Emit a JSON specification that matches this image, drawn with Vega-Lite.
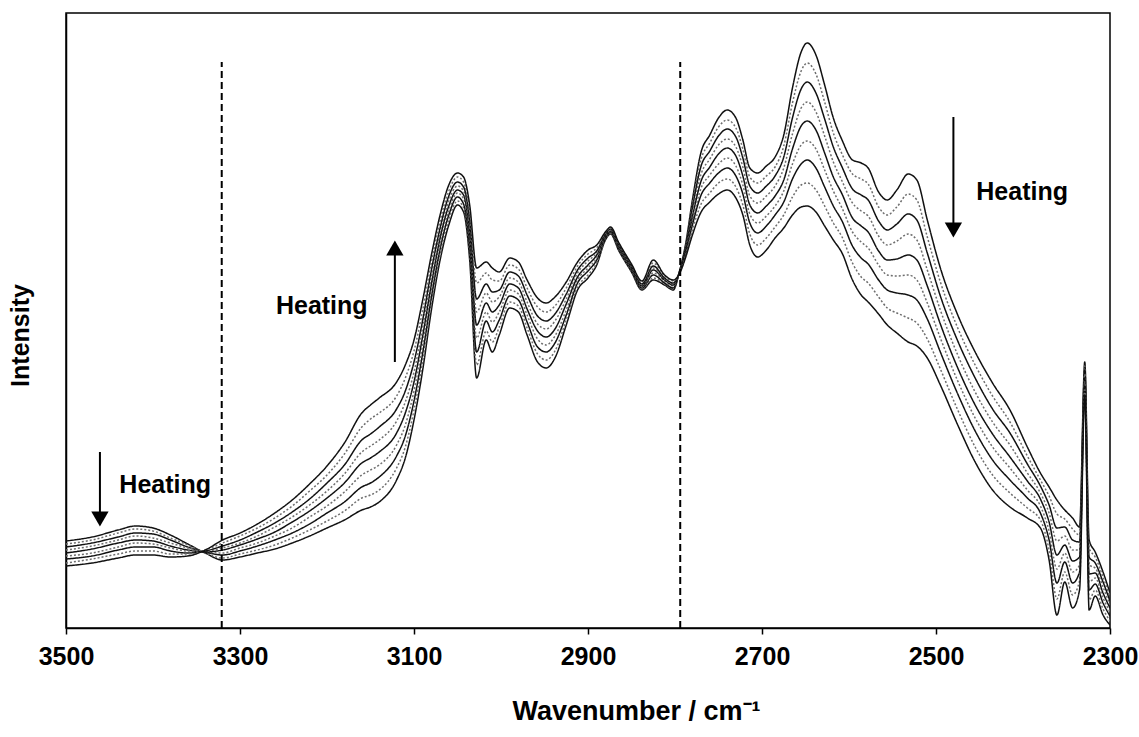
{
"$schema": "https://vega.github.io/schema/vega-lite/v6.json",
"width": 1044, "height": 615,
"autosize": "none",
"padding": {"left": 66, "top": 13, "right": 29, "bottom": 109},
"background": "white",
"config": {"view": {"stroke": "black", "strokeWidth": 1.5}},
"datasets": {
"spectra": [
{"w":3500,"k":0,"i":87},{"w":3500,"k":1,"i":84},{"w":3500,"k":2,"i":81},{"w":3500,"k":3,"i":78},{"w":3500,"k":4,"i":75},{"w":3500,"k":5,"i":72},{"w":3500,"k":6,"i":69},{"w":3500,"k":7,"i":65},{"w":3500,"k":8,"i":62},
{"w":3470,"k":0,"i":91},{"w":3470,"k":1,"i":88},{"w":3470,"k":2,"i":85},{"w":3470,"k":3,"i":82},{"w":3470,"k":4,"i":79},{"w":3470,"k":5,"i":75},{"w":3470,"k":6,"i":72},{"w":3470,"k":7,"i":69},{"w":3470,"k":8,"i":65},
{"w":3440,"k":0,"i":98},{"w":3440,"k":1,"i":95},{"w":3440,"k":2,"i":91},{"w":3440,"k":3,"i":88},{"w":3440,"k":4,"i":85},{"w":3440,"k":5,"i":81},{"w":3440,"k":6,"i":78},{"w":3440,"k":7,"i":74},{"w":3440,"k":8,"i":70},
{"w":3420,"k":0,"i":102},{"w":3420,"k":1,"i":99},{"w":3420,"k":2,"i":95},{"w":3420,"k":3,"i":92},{"w":3420,"k":4,"i":88},{"w":3420,"k":5,"i":85},{"w":3420,"k":6,"i":81},{"w":3420,"k":7,"i":77},{"w":3420,"k":8,"i":73},
{"w":3400,"k":0,"i":100},{"w":3400,"k":1,"i":97},{"w":3400,"k":2,"i":94},{"w":3400,"k":3,"i":90},{"w":3400,"k":4,"i":87},{"w":3400,"k":5,"i":84},{"w":3400,"k":6,"i":81},{"w":3400,"k":7,"i":77},{"w":3400,"k":8,"i":73},
{"w":3380,"k":0,"i":93},{"w":3380,"k":1,"i":90},{"w":3380,"k":2,"i":88},{"w":3380,"k":3,"i":85},{"w":3380,"k":4,"i":82},{"w":3380,"k":5,"i":80},{"w":3380,"k":6,"i":77},{"w":3380,"k":7,"i":74},{"w":3380,"k":8,"i":71},
{"w":3360,"k":0,"i":84},{"w":3360,"k":1,"i":83},{"w":3360,"k":2,"i":81},{"w":3360,"k":3,"i":80},{"w":3360,"k":4,"i":78},{"w":3360,"k":5,"i":77},{"w":3360,"k":6,"i":75},{"w":3360,"k":7,"i":74},{"w":3360,"k":8,"i":72},
{"w":3340,"k":0,"i":75},{"w":3340,"k":1,"i":75},{"w":3340,"k":2,"i":76},{"w":3340,"k":3,"i":76},{"w":3340,"k":4,"i":76},{"w":3340,"k":5,"i":77},{"w":3340,"k":6,"i":77},{"w":3340,"k":7,"i":78},{"w":3340,"k":8,"i":78},
{"w":3320,"k":0,"i":68},{"w":3320,"k":1,"i":70},{"w":3320,"k":2,"i":73},{"w":3320,"k":3,"i":75},{"w":3320,"k":4,"i":78},{"w":3320,"k":5,"i":80},{"w":3320,"k":6,"i":82},{"w":3320,"k":7,"i":85},{"w":3320,"k":8,"i":88},
{"w":3300,"k":0,"i":71},{"w":3300,"k":1,"i":74},{"w":3300,"k":2,"i":77},{"w":3300,"k":3,"i":80},{"w":3300,"k":4,"i":83},{"w":3300,"k":5,"i":85},{"w":3300,"k":6,"i":88},{"w":3300,"k":7,"i":92},{"w":3300,"k":8,"i":95},
{"w":3280,"k":0,"i":75},{"w":3280,"k":1,"i":78},{"w":3280,"k":2,"i":82},{"w":3280,"k":3,"i":85},{"w":3280,"k":4,"i":89},{"w":3280,"k":5,"i":92},{"w":3280,"k":6,"i":96},{"w":3280,"k":7,"i":100},{"w":3280,"k":8,"i":104},
{"w":3260,"k":0,"i":79},{"w":3260,"k":1,"i":83},{"w":3260,"k":2,"i":88},{"w":3260,"k":3,"i":92},{"w":3260,"k":4,"i":96},{"w":3260,"k":5,"i":101},{"w":3260,"k":6,"i":105},{"w":3260,"k":7,"i":110},{"w":3260,"k":8,"i":115},
{"w":3240,"k":0,"i":85},{"w":3240,"k":1,"i":90},{"w":3240,"k":2,"i":95},{"w":3240,"k":3,"i":100},{"w":3240,"k":4,"i":106},{"w":3240,"k":5,"i":111},{"w":3240,"k":6,"i":116},{"w":3240,"k":7,"i":122},{"w":3240,"k":8,"i":128},
{"w":3220,"k":0,"i":92},{"w":3220,"k":1,"i":98},{"w":3220,"k":2,"i":104},{"w":3220,"k":3,"i":111},{"w":3220,"k":4,"i":117},{"w":3220,"k":5,"i":123},{"w":3220,"k":6,"i":129},{"w":3220,"k":7,"i":137},{"w":3220,"k":8,"i":144},
{"w":3200,"k":0,"i":100},{"w":3200,"k":1,"i":107},{"w":3200,"k":2,"i":115},{"w":3200,"k":3,"i":122},{"w":3200,"k":4,"i":130},{"w":3200,"k":5,"i":137},{"w":3200,"k":6,"i":145},{"w":3200,"k":7,"i":153},{"w":3200,"k":8,"i":162},
{"w":3180,"k":0,"i":108},{"w":3180,"k":1,"i":117},{"w":3180,"k":2,"i":126},{"w":3180,"k":3,"i":136},{"w":3180,"k":4,"i":145},{"w":3180,"k":5,"i":154},{"w":3180,"k":6,"i":163},{"w":3180,"k":7,"i":174},{"w":3180,"k":8,"i":185},
{"w":3160,"k":0,"i":118},{"w":3160,"k":1,"i":130},{"w":3160,"k":2,"i":141},{"w":3160,"k":3,"i":153},{"w":3160,"k":4,"i":165},{"w":3160,"k":5,"i":176},{"w":3160,"k":6,"i":188},{"w":3160,"k":7,"i":201},{"w":3160,"k":8,"i":215},
{"w":3150,"k":0,"i":121},{"w":3150,"k":1,"i":133},{"w":3150,"k":2,"i":145},{"w":3150,"k":3,"i":158},{"w":3150,"k":4,"i":170},{"w":3150,"k":5,"i":182},{"w":3150,"k":6,"i":194},{"w":3150,"k":7,"i":209},{"w":3150,"k":8,"i":223},
{"w":3140,"k":0,"i":126},{"w":3140,"k":1,"i":138},{"w":3140,"k":2,"i":151},{"w":3140,"k":3,"i":163},{"w":3140,"k":4,"i":176},{"w":3140,"k":5,"i":188},{"w":3140,"k":6,"i":201},{"w":3140,"k":7,"i":215},{"w":3140,"k":8,"i":230},
{"w":3120,"k":0,"i":148},{"w":3120,"k":1,"i":160},{"w":3120,"k":2,"i":172},{"w":3120,"k":3,"i":183},{"w":3120,"k":4,"i":195},{"w":3120,"k":5,"i":207},{"w":3120,"k":6,"i":219},{"w":3120,"k":7,"i":232},{"w":3120,"k":8,"i":246},
{"w":3110,"k":0,"i":170},{"w":3110,"k":1,"i":181},{"w":3110,"k":2,"i":192},{"w":3110,"k":3,"i":203},{"w":3110,"k":4,"i":215},{"w":3110,"k":5,"i":226},{"w":3110,"k":6,"i":237},{"w":3110,"k":7,"i":250},{"w":3110,"k":8,"i":263},
{"w":3100,"k":0,"i":208},{"w":3100,"k":1,"i":218},{"w":3100,"k":2,"i":227},{"w":3100,"k":3,"i":237},{"w":3100,"k":4,"i":246},{"w":3100,"k":5,"i":256},{"w":3100,"k":6,"i":266},{"w":3100,"k":7,"i":277},{"w":3100,"k":8,"i":288},
{"w":3090,"k":0,"i":258},{"w":3090,"k":1,"i":266},{"w":3090,"k":2,"i":275},{"w":3090,"k":3,"i":283},{"w":3090,"k":4,"i":292},{"w":3090,"k":5,"i":300},{"w":3090,"k":6,"i":308},{"w":3090,"k":7,"i":318},{"w":3090,"k":8,"i":328},
{"w":3080,"k":0,"i":318},{"w":3080,"k":1,"i":325},{"w":3080,"k":2,"i":331},{"w":3080,"k":3,"i":338},{"w":3080,"k":4,"i":344},{"w":3080,"k":5,"i":351},{"w":3080,"k":6,"i":358},{"w":3080,"k":7,"i":365},{"w":3080,"k":8,"i":373},
{"w":3070,"k":0,"i":368},{"w":3070,"k":1,"i":373},{"w":3070,"k":2,"i":379},{"w":3070,"k":3,"i":384},{"w":3070,"k":4,"i":390},{"w":3070,"k":5,"i":395},{"w":3070,"k":6,"i":400},{"w":3070,"k":7,"i":407},{"w":3070,"k":8,"i":413},
{"w":3060,"k":0,"i":403},{"w":3060,"k":1,"i":408},{"w":3060,"k":2,"i":413},{"w":3060,"k":3,"i":417},{"w":3060,"k":4,"i":422},{"w":3060,"k":5,"i":427},{"w":3060,"k":6,"i":432},{"w":3060,"k":7,"i":437},{"w":3060,"k":8,"i":443},
{"w":3050,"k":0,"i":423},{"w":3050,"k":1,"i":427},{"w":3050,"k":2,"i":431},{"w":3050,"k":3,"i":435},{"w":3050,"k":4,"i":438},{"w":3050,"k":5,"i":442},{"w":3050,"k":6,"i":446},{"w":3050,"k":7,"i":451},{"w":3050,"k":8,"i":455},
{"w":3043,"k":0,"i":416},{"w":3043,"k":1,"i":420},{"w":3043,"k":2,"i":424},{"w":3043,"k":3,"i":429},{"w":3043,"k":4,"i":433},{"w":3043,"k":5,"i":437},{"w":3043,"k":6,"i":441},{"w":3043,"k":7,"i":446},{"w":3043,"k":8,"i":451},
{"w":3036,"k":0,"i":368},{"w":3036,"k":1,"i":375},{"w":3036,"k":2,"i":381},{"w":3036,"k":3,"i":388},{"w":3036,"k":4,"i":394},{"w":3036,"k":5,"i":401},{"w":3036,"k":6,"i":408},{"w":3036,"k":7,"i":415},{"w":3036,"k":8,"i":423},
{"w":3028,"k":0,"i":250},{"w":3028,"k":1,"i":263},{"w":3028,"k":2,"i":276},{"w":3028,"k":3,"i":290},{"w":3028,"k":4,"i":303},{"w":3028,"k":5,"i":316},{"w":3028,"k":6,"i":329},{"w":3028,"k":7,"i":345},{"w":3028,"k":8,"i":360},
{"w":3017,"k":0,"i":288},{"w":3017,"k":1,"i":297},{"w":3017,"k":2,"i":307},{"w":3017,"k":3,"i":316},{"w":3017,"k":4,"i":325},{"w":3017,"k":5,"i":335},{"w":3017,"k":6,"i":344},{"w":3017,"k":7,"i":355},{"w":3017,"k":8,"i":366},
{"w":3010,"k":0,"i":276},{"w":3010,"k":1,"i":286},{"w":3010,"k":2,"i":296},{"w":3010,"k":3,"i":306},{"w":3010,"k":4,"i":316},{"w":3010,"k":5,"i":326},{"w":3010,"k":6,"i":336},{"w":3010,"k":7,"i":348},{"w":3010,"k":8,"i":360},
{"w":3002,"k":0,"i":293},{"w":3002,"k":1,"i":301},{"w":3002,"k":2,"i":308},{"w":3002,"k":3,"i":316},{"w":3002,"k":4,"i":323},{"w":3002,"k":5,"i":331},{"w":3002,"k":6,"i":338},{"w":3002,"k":7,"i":347},{"w":3002,"k":8,"i":356},
{"w":2990,"k":0,"i":320},{"w":2990,"k":1,"i":326},{"w":2990,"k":2,"i":332},{"w":2990,"k":3,"i":338},{"w":2990,"k":4,"i":344},{"w":2990,"k":5,"i":350},{"w":2990,"k":6,"i":356},{"w":2990,"k":7,"i":363},{"w":2990,"k":8,"i":370},
{"w":2980,"k":0,"i":316},{"w":2980,"k":1,"i":322},{"w":2980,"k":2,"i":328},{"w":2980,"k":3,"i":334},{"w":2980,"k":4,"i":340},{"w":2980,"k":5,"i":346},{"w":2980,"k":6,"i":352},{"w":2980,"k":7,"i":359},{"w":2980,"k":8,"i":366},
{"w":2970,"k":0,"i":293},{"w":2970,"k":1,"i":300},{"w":2970,"k":2,"i":306},{"w":2970,"k":3,"i":313},{"w":2970,"k":4,"i":319},{"w":2970,"k":5,"i":326},{"w":2970,"k":6,"i":333},{"w":2970,"k":7,"i":340},{"w":2970,"k":8,"i":348},
{"w":2958,"k":0,"i":266},{"w":2958,"k":1,"i":274},{"w":2958,"k":2,"i":281},{"w":2958,"k":3,"i":289},{"w":2958,"k":4,"i":297},{"w":2958,"k":5,"i":304},{"w":2958,"k":6,"i":312},{"w":2958,"k":7,"i":321},{"w":2958,"k":8,"i":330},
{"w":2948,"k":0,"i":260},{"w":2948,"k":1,"i":268},{"w":2948,"k":2,"i":276},{"w":2948,"k":3,"i":283},{"w":2948,"k":4,"i":291},{"w":2948,"k":5,"i":299},{"w":2948,"k":6,"i":307},{"w":2948,"k":7,"i":316},{"w":2948,"k":8,"i":325},
{"w":2938,"k":0,"i":270},{"w":2938,"k":1,"i":277},{"w":2938,"k":2,"i":285},{"w":2938,"k":3,"i":292},{"w":2938,"k":4,"i":299},{"w":2938,"k":5,"i":307},{"w":2938,"k":6,"i":314},{"w":2938,"k":7,"i":322},{"w":2938,"k":8,"i":331},
{"w":2925,"k":0,"i":303},{"w":2925,"k":1,"i":308},{"w":2925,"k":2,"i":313},{"w":2925,"k":3,"i":318},{"w":2925,"k":4,"i":324},{"w":2925,"k":5,"i":329},{"w":2925,"k":6,"i":334},{"w":2925,"k":7,"i":340},{"w":2925,"k":8,"i":346},
{"w":2912,"k":0,"i":338},{"w":2912,"k":1,"i":341},{"w":2912,"k":2,"i":345},{"w":2912,"k":3,"i":348},{"w":2912,"k":4,"i":351},{"w":2912,"k":5,"i":355},{"w":2912,"k":6,"i":358},{"w":2912,"k":7,"i":362},{"w":2912,"k":8,"i":366},
{"w":2900,"k":0,"i":350},{"w":2900,"k":1,"i":353},{"w":2900,"k":2,"i":357},{"w":2900,"k":3,"i":360},{"w":2900,"k":4,"i":363},{"w":2900,"k":5,"i":367},{"w":2900,"k":6,"i":370},{"w":2900,"k":7,"i":374},{"w":2900,"k":8,"i":378},
{"w":2890,"k":0,"i":363},{"w":2890,"k":1,"i":365},{"w":2890,"k":2,"i":368},{"w":2890,"k":3,"i":370},{"w":2890,"k":4,"i":373},{"w":2890,"k":5,"i":375},{"w":2890,"k":6,"i":377},{"w":2890,"k":7,"i":380},{"w":2890,"k":8,"i":383},
{"w":2880,"k":0,"i":388},{"w":2880,"k":1,"i":389},{"w":2880,"k":2,"i":390},{"w":2880,"k":3,"i":391},{"w":2880,"k":4,"i":392},{"w":2880,"k":5,"i":393},{"w":2880,"k":6,"i":394},{"w":2880,"k":7,"i":395},{"w":2880,"k":8,"i":396},
{"w":2874,"k":0,"i":394},{"w":2874,"k":1,"i":395},{"w":2874,"k":2,"i":396},{"w":2874,"k":3,"i":397},{"w":2874,"k":4,"i":397},{"w":2874,"k":5,"i":398},{"w":2874,"k":6,"i":399},{"w":2874,"k":7,"i":400},{"w":2874,"k":8,"i":401},
{"w":2865,"k":0,"i":378},{"w":2865,"k":1,"i":379},{"w":2865,"k":2,"i":380},{"w":2865,"k":3,"i":381},{"w":2865,"k":4,"i":382},{"w":2865,"k":5,"i":383},{"w":2865,"k":6,"i":384},{"w":2865,"k":7,"i":385},{"w":2865,"k":8,"i":386},
{"w":2850,"k":0,"i":356},{"w":2850,"k":1,"i":357},{"w":2850,"k":2,"i":358},{"w":2850,"k":3,"i":359},{"w":2850,"k":4,"i":360},{"w":2850,"k":5,"i":361},{"w":2850,"k":6,"i":362},{"w":2850,"k":7,"i":363},{"w":2850,"k":8,"i":364},
{"w":2838,"k":0,"i":338},{"w":2838,"k":1,"i":339},{"w":2838,"k":2,"i":340},{"w":2838,"k":3,"i":341},{"w":2838,"k":4,"i":342},{"w":2838,"k":5,"i":343},{"w":2838,"k":6,"i":344},{"w":2838,"k":7,"i":346},{"w":2838,"k":8,"i":347},
{"w":2825,"k":0,"i":348},{"w":2825,"k":1,"i":350},{"w":2825,"k":2,"i":353},{"w":2825,"k":3,"i":355},{"w":2825,"k":4,"i":358},{"w":2825,"k":5,"i":360},{"w":2825,"k":6,"i":362},{"w":2825,"k":7,"i":365},{"w":2825,"k":8,"i":368},
{"w":2812,"k":0,"i":343},{"w":2812,"k":1,"i":344},{"w":2812,"k":2,"i":345},{"w":2812,"k":3,"i":347},{"w":2812,"k":4,"i":348},{"w":2812,"k":5,"i":349},{"w":2812,"k":6,"i":350},{"w":2812,"k":7,"i":352},{"w":2812,"k":8,"i":353},
{"w":2802,"k":0,"i":338},{"w":2802,"k":1,"i":339},{"w":2802,"k":2,"i":340},{"w":2802,"k":3,"i":342},{"w":2802,"k":4,"i":343},{"w":2802,"k":5,"i":344},{"w":2802,"k":6,"i":345},{"w":2802,"k":7,"i":347},{"w":2802,"k":8,"i":348},
{"w":2795,"k":0,"i":356},{"w":2795,"k":1,"i":356},{"w":2795,"k":2,"i":356},{"w":2795,"k":3,"i":355},{"w":2795,"k":4,"i":355},{"w":2795,"k":5,"i":355},{"w":2795,"k":6,"i":355},{"w":2795,"k":7,"i":354},{"w":2795,"k":8,"i":354},
{"w":2788,"k":0,"i":383},{"w":2788,"k":1,"i":381},{"w":2788,"k":2,"i":380},{"w":2788,"k":3,"i":378},{"w":2788,"k":4,"i":377},{"w":2788,"k":5,"i":375},{"w":2788,"k":6,"i":374},{"w":2788,"k":7,"i":372},{"w":2788,"k":8,"i":370},
{"w":2780,"k":0,"i":428},{"w":2780,"k":1,"i":424},{"w":2780,"k":2,"i":420},{"w":2780,"k":3,"i":415},{"w":2780,"k":4,"i":411},{"w":2780,"k":5,"i":407},{"w":2780,"k":6,"i":403},{"w":2780,"k":7,"i":398},{"w":2780,"k":8,"i":393},
{"w":2770,"k":0,"i":476},{"w":2770,"k":1,"i":469},{"w":2770,"k":2,"i":462},{"w":2770,"k":3,"i":454},{"w":2770,"k":4,"i":447},{"w":2770,"k":5,"i":440},{"w":2770,"k":6,"i":433},{"w":2770,"k":7,"i":424},{"w":2770,"k":8,"i":416},
{"w":2760,"k":0,"i":493},{"w":2760,"k":1,"i":485},{"w":2760,"k":2,"i":477},{"w":2760,"k":3,"i":469},{"w":2760,"k":4,"i":461},{"w":2760,"k":5,"i":453},{"w":2760,"k":6,"i":445},{"w":2760,"k":7,"i":435},{"w":2760,"k":8,"i":426},
{"w":2750,"k":0,"i":510},{"w":2750,"k":1,"i":501},{"w":2750,"k":2,"i":492},{"w":2750,"k":3,"i":483},{"w":2750,"k":4,"i":474},{"w":2750,"k":5,"i":464},{"w":2750,"k":6,"i":455},{"w":2750,"k":7,"i":445},{"w":2750,"k":8,"i":434},
{"w":2740,"k":0,"i":518},{"w":2740,"k":1,"i":508},{"w":2740,"k":2,"i":499},{"w":2740,"k":3,"i":489},{"w":2740,"k":4,"i":480},{"w":2740,"k":5,"i":470},{"w":2740,"k":6,"i":460},{"w":2740,"k":7,"i":449},{"w":2740,"k":8,"i":438},
{"w":2730,"k":0,"i":510},{"w":2730,"k":1,"i":500},{"w":2730,"k":2,"i":491},{"w":2730,"k":3,"i":481},{"w":2730,"k":4,"i":472},{"w":2730,"k":5,"i":462},{"w":2730,"k":6,"i":452},{"w":2730,"k":7,"i":441},{"w":2730,"k":8,"i":430},
{"w":2722,"k":0,"i":488},{"w":2722,"k":1,"i":479},{"w":2722,"k":2,"i":470},{"w":2722,"k":3,"i":461},{"w":2722,"k":4,"i":452},{"w":2722,"k":5,"i":443},{"w":2722,"k":6,"i":434},{"w":2722,"k":7,"i":423},{"w":2722,"k":8,"i":413},
{"w":2714,"k":0,"i":460},{"w":2714,"k":1,"i":451},{"w":2714,"k":2,"i":442},{"w":2714,"k":3,"i":432},{"w":2714,"k":4,"i":423},{"w":2714,"k":5,"i":414},{"w":2714,"k":6,"i":405},{"w":2714,"k":7,"i":394},{"w":2714,"k":8,"i":383},
{"w":2705,"k":0,"i":455},{"w":2705,"k":1,"i":445},{"w":2705,"k":2,"i":435},{"w":2705,"k":3,"i":425},{"w":2705,"k":4,"i":415},{"w":2705,"k":5,"i":405},{"w":2705,"k":6,"i":395},{"w":2705,"k":7,"i":383},{"w":2705,"k":8,"i":371},
{"w":2695,"k":0,"i":462},{"w":2695,"k":1,"i":452},{"w":2695,"k":2,"i":442},{"w":2695,"k":3,"i":432},{"w":2695,"k":4,"i":422},{"w":2695,"k":5,"i":412},{"w":2695,"k":6,"i":402},{"w":2695,"k":7,"i":390},{"w":2695,"k":8,"i":378},
{"w":2685,"k":0,"i":471},{"w":2685,"k":1,"i":461},{"w":2685,"k":2,"i":452},{"w":2685,"k":3,"i":442},{"w":2685,"k":4,"i":432},{"w":2685,"k":5,"i":422},{"w":2685,"k":6,"i":413},{"w":2685,"k":7,"i":401},{"w":2685,"k":8,"i":390},
{"w":2675,"k":0,"i":493},{"w":2675,"k":1,"i":482},{"w":2675,"k":2,"i":471},{"w":2675,"k":3,"i":460},{"w":2675,"k":4,"i":448},{"w":2675,"k":5,"i":437},{"w":2675,"k":6,"i":426},{"w":2675,"k":7,"i":413},{"w":2675,"k":8,"i":400},
{"w":2665,"k":0,"i":540},{"w":2665,"k":1,"i":525},{"w":2665,"k":2,"i":510},{"w":2665,"k":3,"i":494},{"w":2665,"k":4,"i":479},{"w":2665,"k":5,"i":464},{"w":2665,"k":6,"i":449},{"w":2665,"k":7,"i":431},{"w":2665,"k":8,"i":413},
{"w":2655,"k":0,"i":576},{"w":2655,"k":1,"i":557},{"w":2655,"k":2,"i":539},{"w":2655,"k":3,"i":520},{"w":2655,"k":4,"i":502},{"w":2655,"k":5,"i":483},{"w":2655,"k":6,"i":464},{"w":2655,"k":7,"i":443},{"w":2655,"k":8,"i":421},
{"w":2648,"k":0,"i":585},{"w":2648,"k":1,"i":565},{"w":2648,"k":2,"i":546},{"w":2648,"k":3,"i":526},{"w":2648,"k":4,"i":507},{"w":2648,"k":5,"i":487},{"w":2648,"k":6,"i":468},{"w":2648,"k":7,"i":445},{"w":2648,"k":8,"i":422},
{"w":2638,"k":0,"i":573},{"w":2638,"k":1,"i":554},{"w":2638,"k":2,"i":535},{"w":2638,"k":3,"i":516},{"w":2638,"k":4,"i":498},{"w":2638,"k":5,"i":479},{"w":2638,"k":6,"i":460},{"w":2638,"k":7,"i":438},{"w":2638,"k":8,"i":416},
{"w":2628,"k":0,"i":543},{"w":2628,"k":1,"i":526},{"w":2628,"k":2,"i":509},{"w":2628,"k":3,"i":492},{"w":2628,"k":4,"i":475},{"w":2628,"k":5,"i":458},{"w":2628,"k":6,"i":441},{"w":2628,"k":7,"i":422},{"w":2628,"k":8,"i":402},
{"w":2618,"k":0,"i":510},{"w":2618,"k":1,"i":495},{"w":2618,"k":2,"i":481},{"w":2618,"k":3,"i":466},{"w":2618,"k":4,"i":451},{"w":2618,"k":5,"i":437},{"w":2618,"k":6,"i":422},{"w":2618,"k":7,"i":405},{"w":2618,"k":8,"i":388},
{"w":2608,"k":0,"i":488},{"w":2608,"k":1,"i":474},{"w":2608,"k":2,"i":461},{"w":2608,"k":3,"i":447},{"w":2608,"k":4,"i":434},{"w":2608,"k":5,"i":420},{"w":2608,"k":6,"i":407},{"w":2608,"k":7,"i":391},{"w":2608,"k":8,"i":375},
{"w":2596,"k":0,"i":468},{"w":2596,"k":1,"i":454},{"w":2596,"k":2,"i":439},{"w":2596,"k":3,"i":425},{"w":2596,"k":4,"i":410},{"w":2596,"k":5,"i":396},{"w":2596,"k":6,"i":382},{"w":2596,"k":7,"i":365},{"w":2596,"k":8,"i":348},
{"w":2586,"k":0,"i":465},{"w":2586,"k":1,"i":449},{"w":2586,"k":2,"i":433},{"w":2586,"k":3,"i":417},{"w":2586,"k":4,"i":402},{"w":2586,"k":5,"i":386},{"w":2586,"k":6,"i":370},{"w":2586,"k":7,"i":351},{"w":2586,"k":8,"i":333},
{"w":2578,"k":0,"i":460},{"w":2578,"k":1,"i":444},{"w":2578,"k":2,"i":428},{"w":2578,"k":3,"i":412},{"w":2578,"k":4,"i":396},{"w":2578,"k":5,"i":380},{"w":2578,"k":6,"i":364},{"w":2578,"k":7,"i":345},{"w":2578,"k":8,"i":326},
{"w":2566,"k":0,"i":436},{"w":2566,"k":1,"i":421},{"w":2566,"k":2,"i":407},{"w":2566,"k":3,"i":392},{"w":2566,"k":4,"i":377},{"w":2566,"k":5,"i":363},{"w":2566,"k":6,"i":348},{"w":2566,"k":7,"i":331},{"w":2566,"k":8,"i":314},
{"w":2556,"k":0,"i":428},{"w":2556,"k":1,"i":413},{"w":2556,"k":2,"i":398},{"w":2556,"k":3,"i":383},{"w":2556,"k":4,"i":368},{"w":2556,"k":5,"i":353},{"w":2556,"k":6,"i":338},{"w":2556,"k":7,"i":320},{"w":2556,"k":8,"i":303},
{"w":2545,"k":0,"i":438},{"w":2545,"k":1,"i":421},{"w":2545,"k":2,"i":404},{"w":2545,"k":3,"i":387},{"w":2545,"k":4,"i":369},{"w":2545,"k":5,"i":352},{"w":2545,"k":6,"i":335},{"w":2545,"k":7,"i":315},{"w":2545,"k":8,"i":295},
{"w":2532,"k":0,"i":454},{"w":2532,"k":1,"i":434},{"w":2532,"k":2,"i":414},{"w":2532,"k":3,"i":394},{"w":2532,"k":4,"i":373},{"w":2532,"k":5,"i":353},{"w":2532,"k":6,"i":333},{"w":2532,"k":7,"i":310},{"w":2532,"k":8,"i":286},
{"w":2522,"k":0,"i":448},{"w":2522,"k":1,"i":428},{"w":2522,"k":2,"i":408},{"w":2522,"k":3,"i":388},{"w":2522,"k":4,"i":368},{"w":2522,"k":5,"i":348},{"w":2522,"k":6,"i":328},{"w":2522,"k":7,"i":305},{"w":2522,"k":8,"i":282},
{"w":2510,"k":0,"i":408},{"w":2510,"k":1,"i":391},{"w":2510,"k":2,"i":375},{"w":2510,"k":3,"i":358},{"w":2510,"k":4,"i":342},{"w":2510,"k":5,"i":325},{"w":2510,"k":6,"i":309},{"w":2510,"k":7,"i":289},{"w":2510,"k":8,"i":270},
{"w":2495,"k":0,"i":360},{"w":2495,"k":1,"i":346},{"w":2495,"k":2,"i":332},{"w":2495,"k":3,"i":318},{"w":2495,"k":4,"i":304},{"w":2495,"k":5,"i":290},{"w":2495,"k":6,"i":276},{"w":2495,"k":7,"i":259},{"w":2495,"k":8,"i":243},
{"w":2475,"k":0,"i":313},{"w":2475,"k":1,"i":300},{"w":2475,"k":2,"i":287},{"w":2475,"k":3,"i":273},{"w":2475,"k":4,"i":260},{"w":2475,"k":5,"i":247},{"w":2475,"k":6,"i":234},{"w":2475,"k":7,"i":218},{"w":2475,"k":8,"i":203},
{"w":2455,"k":0,"i":276},{"w":2455,"k":1,"i":263},{"w":2455,"k":2,"i":250},{"w":2455,"k":3,"i":236},{"w":2455,"k":4,"i":223},{"w":2455,"k":5,"i":210},{"w":2455,"k":6,"i":197},{"w":2455,"k":7,"i":181},{"w":2455,"k":8,"i":166},
{"w":2435,"k":0,"i":245},{"w":2435,"k":1,"i":232},{"w":2435,"k":2,"i":219},{"w":2435,"k":3,"i":206},{"w":2435,"k":4,"i":194},{"w":2435,"k":5,"i":181},{"w":2435,"k":6,"i":168},{"w":2435,"k":7,"i":153},{"w":2435,"k":8,"i":138},
{"w":2415,"k":0,"i":218},{"w":2415,"k":1,"i":206},{"w":2415,"k":2,"i":195},{"w":2415,"k":3,"i":183},{"w":2415,"k":4,"i":171},{"w":2415,"k":5,"i":160},{"w":2415,"k":6,"i":148},{"w":2415,"k":7,"i":135},{"w":2415,"k":8,"i":121},
{"w":2395,"k":0,"i":181},{"w":2395,"k":1,"i":172},{"w":2395,"k":2,"i":164},{"w":2395,"k":3,"i":155},{"w":2395,"k":4,"i":147},{"w":2395,"k":5,"i":138},{"w":2395,"k":6,"i":130},{"w":2395,"k":7,"i":120},{"w":2395,"k":8,"i":110},
{"w":2380,"k":0,"i":155},{"w":2380,"k":1,"i":148},{"w":2380,"k":2,"i":142},{"w":2380,"k":3,"i":135},{"w":2380,"k":4,"i":129},{"w":2380,"k":5,"i":122},{"w":2380,"k":6,"i":115},{"w":2380,"k":7,"i":108},{"w":2380,"k":8,"i":100},
{"w":2370,"k":0,"i":141},{"w":2370,"k":1,"i":132},{"w":2370,"k":2,"i":123},{"w":2370,"k":3,"i":115},{"w":2370,"k":4,"i":106},{"w":2370,"k":5,"i":97},{"w":2370,"k":6,"i":88},{"w":2370,"k":7,"i":78},{"w":2370,"k":8,"i":68},
{"w":2361,"k":0,"i":128},{"w":2361,"k":1,"i":114},{"w":2361,"k":2,"i":100},{"w":2361,"k":3,"i":87},{"w":2361,"k":4,"i":73},{"w":2361,"k":5,"i":59},{"w":2361,"k":6,"i":45},{"w":2361,"k":7,"i":29},{"w":2361,"k":8,"i":13},
{"w":2352,"k":0,"i":118},{"w":2352,"k":1,"i":109},{"w":2352,"k":2,"i":101},{"w":2352,"k":3,"i":92},{"w":2352,"k":4,"i":83},{"w":2352,"k":5,"i":75},{"w":2352,"k":6,"i":66},{"w":2352,"k":7,"i":56},{"w":2352,"k":8,"i":46},
{"w":2343,"k":0,"i":110},{"w":2343,"k":1,"i":99},{"w":2343,"k":2,"i":88},{"w":2343,"k":3,"i":78},{"w":2343,"k":4,"i":67},{"w":2343,"k":5,"i":56},{"w":2343,"k":6,"i":45},{"w":2343,"k":7,"i":33},{"w":2343,"k":8,"i":20},
{"w":2335,"k":0,"i":101},{"w":2335,"k":1,"i":93},{"w":2335,"k":2,"i":86},{"w":2335,"k":3,"i":78},{"w":2335,"k":4,"i":71},{"w":2335,"k":5,"i":63},{"w":2335,"k":6,"i":56},{"w":2335,"k":7,"i":47},{"w":2335,"k":8,"i":38},
{"w":2329,"k":0,"i":266},{"w":2329,"k":1,"i":262},{"w":2329,"k":2,"i":258},{"w":2329,"k":3,"i":254},{"w":2329,"k":4,"i":250},{"w":2329,"k":5,"i":246},{"w":2329,"k":6,"i":242},{"w":2329,"k":7,"i":238},{"w":2329,"k":8,"i":233},
{"w":2324,"k":0,"i":88},{"w":2324,"k":1,"i":80},{"w":2324,"k":2,"i":71},{"w":2324,"k":3,"i":63},{"w":2324,"k":4,"i":54},{"w":2324,"k":5,"i":46},{"w":2324,"k":6,"i":38},{"w":2324,"k":7,"i":28},{"w":2324,"k":8,"i":18},
{"w":2317,"k":0,"i":76},{"w":2317,"k":1,"i":71},{"w":2317,"k":2,"i":65},{"w":2317,"k":3,"i":60},{"w":2317,"k":4,"i":55},{"w":2317,"k":5,"i":50},{"w":2317,"k":6,"i":44},{"w":2317,"k":7,"i":38},{"w":2317,"k":8,"i":32},
{"w":2308,"k":0,"i":56},{"w":2308,"k":1,"i":51},{"w":2308,"k":2,"i":46},{"w":2308,"k":3,"i":41},{"w":2308,"k":4,"i":35},{"w":2308,"k":5,"i":30},{"w":2308,"k":6,"i":25},{"w":2308,"k":7,"i":19},{"w":2308,"k":8,"i":13},
{"w":2300,"k":0,"i":35},{"w":2300,"k":1,"i":31},{"w":2300,"k":2,"i":27},{"w":2300,"k":3,"i":23},{"w":2300,"k":4,"i":20},{"w":2300,"k":5,"i":16},{"w":2300,"k":6,"i":12},{"w":2300,"k":7,"i":7},{"w":2300,"k":8,"i":3}
],
"dashes": [{"w":3321,"lo":0,"hi":566},{"w":2794,"lo":0,"hi":566}],
"arrows": [
{"w":3461,"a":176,"b":109,"s":"triangle-down"},
{"w":3122,"a":266,"b":380,"s":"triangle-up"},
{"w":2480,"a":511,"b":398,"s":"triangle-down"}
],
"labels": [
{"w":3386,"i":143,"t":"Heating"},
{"w":3206,"i":322,"t":"Heating"},
{"w":2401,"i":436,"t":"Heating"}
]
},
"layer": [
{
"data": {"name": "spectra"},
"mark": {"type": "line", "strokeWidth": 1.5, "clip": true, "interpolate": "monotone"},
"encoding": {
"x": {"field": "w", "type": "quantitative",
"scale": {"domain": [2300, 3500], "reverse": true, "nice": false, "zero": false},
"axis": {"values": [3500, 3300, 3100, 2900, 2700, 2500, 2300], "format": "d", "grid": false,
"tickSize": 6, "tickColor": "black", "tickWidth": 1.5, "domainColor": "black", "domainWidth": 1.5,
"labelFont": "Liberation Sans", "labelFontWeight": "bold", "labelFontSize": 25, "labelColor": "black",
"labelPadding": 10, "labelOverlap": false, "labelBound": false, "labelFlush": false,
"title": "Wavenumber / cm⁻¹", "titleFont": "Liberation Sans", "titleFontWeight": "bold", "titleFontSize": 27,
"titleColor": "black", "titleX": 570, "titleY": 83, "titleAlign": "center", "titleBaseline": "middle"}},
"y": {"field": "i", "type": "quantitative",
"scale": {"domain": [0, 615], "nice": false, "zero": false},
"axis": {"labels": false, "ticks": false, "grid": false, "domainColor": "black", "domainWidth": 1.5,
"title": "Intensity", "titleFont": "Liberation Sans", "titleFontWeight": "bold", "titleFontSize": 25,
"titleColor": "black", "titleX": -46, "titleY": 322, "titleAngle": 270, "titleAlign": "center", "titleBaseline": "middle"}},
"color": {"field": "k", "type": "ordinal",
"scale": {"domain": [0,1,2,3,4,5,6,7,8], "range": ["#111111","#6e6e6e","#111111","#6e6e6e","#111111","#6e6e6e","#111111","#6e6e6e","#111111"]},
"legend": null},
"strokeDash": {"field": "k", "type": "ordinal",
"scale": {"domain": [0,1,2,3,4,5,6,7,8], "range": [[1,0],[2,2],[1,0],[2,2],[1,0],[2,2],[1,0],[2,2],[1,0]]},
"legend": null}
}
},
{
"data": {"name": "dashes"},
"mark": {"type": "rule", "color": "black", "strokeWidth": 2, "strokeDash": [7, 4]},
"encoding": {
"x": {"field": "w", "type": "quantitative"},
"y": {"field": "lo", "type": "quantitative"},
"y2": {"field": "hi"}
}
},
{
"data": {"name": "arrows"},
"mark": {"type": "rule", "color": "black", "strokeWidth": 2},
"encoding": {
"x": {"field": "w", "type": "quantitative"},
"y": {"field": "a", "type": "quantitative"},
"y2": {"field": "b"}
}
},
{
"data": {"name": "arrows"},
"mark": {"type": "point", "filled": true, "color": "black", "size": 300, "opacity": 1},
"encoding": {
"x": {"field": "w", "type": "quantitative"},
"y": {"field": "b", "type": "quantitative"},
"shape": {"field": "s", "type": "nominal", "scale": null}
}
},
{
"data": {"name": "labels"},
"mark": {"type": "text", "font": "Liberation Sans", "fontWeight": "bold", "fontSize": 25, "color": "black", "align": "center", "baseline": "middle"},
"encoding": {
"x": {"field": "w", "type": "quantitative"},
"y": {"field": "i", "type": "quantitative"},
"text": {"field": "t"}
}
}
]
}
